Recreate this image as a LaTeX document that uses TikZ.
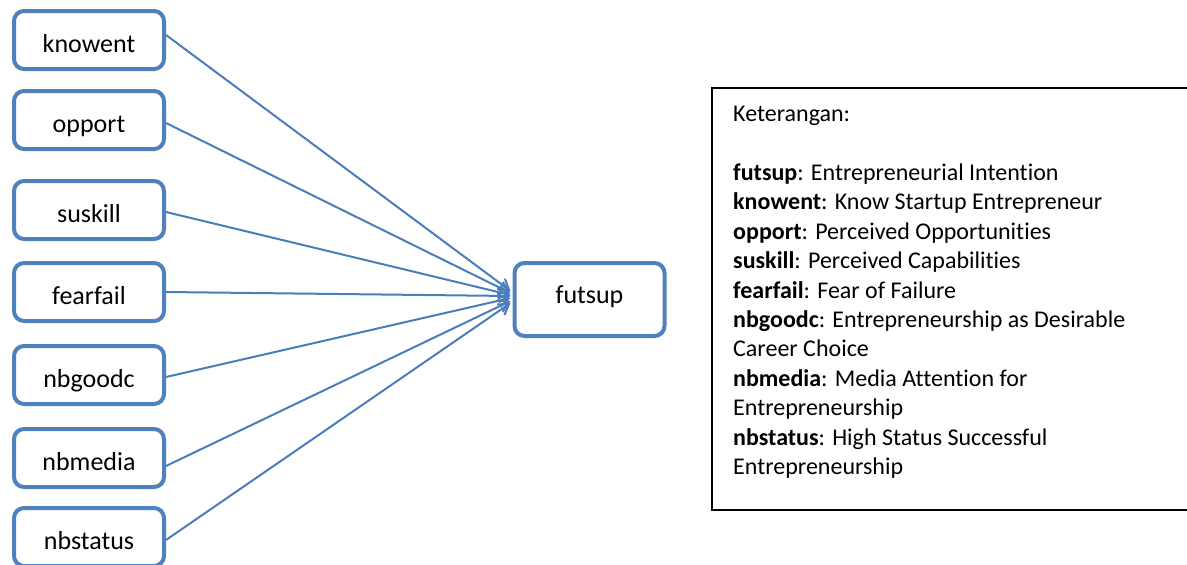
\documentclass[tikz,border=0pt]{standalone}
\usepackage{fontspec}
\setmainfont{Carlito}[Ligatures={NoCommon,NoContextual}]
\usetikzlibrary{positioning, arrows.meta}
\definecolor{boxblue}{HTML}{4F81BD}
\definecolor{linkblue}{HTML}{4A7EBB}

\begin{document}
\begin{tikzpicture}[
  x=1pt, y=-1pt,
  varbox/.style={draw=boxblue, line width=4pt, rounded corners=10pt, minimum width=150pt,
    minimum height=#1, inner sep=0pt, text height=24pt, text depth=0pt,
    font=\fontsize{26}{31}\selectfont},
  varbox/.default=58pt,
  link/.style={draw=linkblue, line width=2pt, -{Straight Barb[length=10pt, width=13pt]}},
]
\useasboundingbox (0,0) rectangle (1187,565);

% Variables
\foreach \name/\y in {knowent/40, opport/120, suskill/210, fearfail/292, nbgoodc/375, nbmedia/458, nbstatus/537} {
  \node[varbox] (\name) at (89, \y) {\name};
}
\node[varbox=73pt, text height=8pt] (futsup) at (589.5, 299.5) {futsup};

% Links
\foreach \name/\sy/\ey in {knowent/5/8.5, opport/-3/6.5, suskill/-2/4.5, fearfail/0/3.5, nbgoodc/-2/1.5, nbmedia/-8/-1.5, nbstatus/-3/-3.5} {
  \draw[link] ([yshift=\sy pt]\name.east) -- ([xshift=-2pt, yshift=\ey pt]futsup.west);
}

% Legend
\draw[line width=1.5pt] (712,88) rectangle (1195,510);
\node[anchor=north west, inner sep=0pt, align=left, font=\fontsize{24}{29.4}\selectfont] (legendtxt) at (733,106) {%
  Keterangan:\\[29.4pt]
  \textbf{futsup}: Entrepreneurial Intention\\
  \textbf{knowent}: Know Startup Entrepreneur\\
  \textbf{opport}: Perceived Opportunities\\
  \textbf{suskill}: Perceived Capabilities\\
  \textbf{fearfail}: Fear of Failure\\
  \textbf{nbgoodc}: Entrepreneurship as Desirable\\
  Career Choice\\
  \textbf{nbmedia}: Media Attention for\\
  Entrepreneurship\\
  \textbf{nbstatus}: High Status Successful\\
  Entrepreneurship};
\end{tikzpicture}
\end{document}
